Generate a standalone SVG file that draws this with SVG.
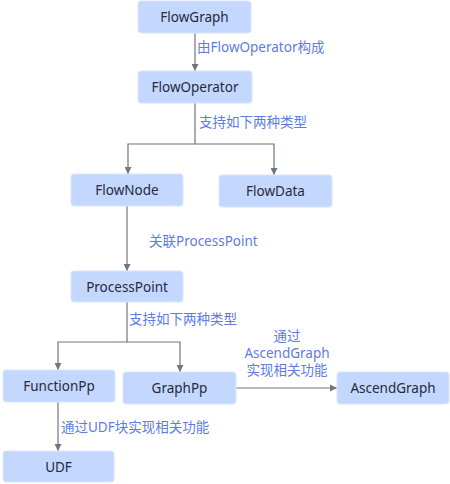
<svg xmlns="http://www.w3.org/2000/svg" width="450" height="484" viewBox="0 0 450 484">
<style>
.n rect{fill:#c4d7ff;stroke:#d9e4ff;stroke-width:1}
.n text{font-family:"Noto Sans","Noto Sans CJK SC",sans-serif;font-size:13.5px;fill:#252b3a;text-anchor:middle}
.c path{fill:none;stroke:#71757f;stroke-width:1.2}
.l{font-family:"Noto Sans","Noto Sans CJK SC",sans-serif;font-size:13.5px;fill:#5e7ce0}
</style>
<defs>
<marker id="a" viewBox="0 0 10 10" refX="10" refY="5" markerWidth="7" markerHeight="7" orient="auto-start-reverse" markerUnits="userSpaceOnUse">
<path d="M0,0 L10,5 L0,10 z" fill="#71757f"/>
</marker>
</defs>
<rect width="450" height="484" fill="#ffffff"/>
<g class="c">
<path d="M195,33 V71" marker-end="url(#a)"/>
<path d="M195,103 V144 H128 V174" marker-end="url(#a)"/>
<path d="M195,144 H274 V175" marker-end="url(#a)"/>
<path d="M127,206 V271" marker-end="url(#a)"/>
<path d="M127,302 V342 H58 V370" marker-end="url(#a)"/>
<path d="M127,342 H180 V372" marker-end="url(#a)"/>
<path d="M236,388 H337" marker-end="url(#a)"/>
<path d="M58,402 V451" marker-end="url(#a)"/>
</g>
<g id="labels">
<text class="l" x="197" y="52">由FlowOperator构成</text>
<text class="l" x="199" y="127">支持如下两种类型</text>
<text class="l" x="149" y="246">关联ProcessPoint</text>
<text class="l" x="129" y="324">支持如下两种类型</text>
<text class="l" x="287" y="341" text-anchor="middle">通过</text>
<text class="l" x="287" y="358" text-anchor="middle">AscendGraph</text>
<text class="l" x="287" y="375" text-anchor="middle">实现相关功能</text>
<text class="l" x="61" y="432">通过UDF块实现相关功能</text>
</g>
<g id="FlowGraph" class="n"><rect x="138" y="1" width="113" height="32" rx="3"/><text x="194.5" y="22">FlowGraph</text></g>
<g id="FlowOperator" class="n"><rect x="138" y="71" width="114" height="32" rx="3"/><text x="195" y="92">FlowOperator</text></g>
<g id="FlowNode" class="n"><rect x="71" y="174" width="112" height="32" rx="3"/><text x="127" y="195">FlowNode</text></g>
<g id="FlowData" class="n"><rect x="219" y="175" width="113" height="32" rx="3"/><text x="275.5" y="196">FlowData</text></g>
<g id="ProcessPoint" class="n"><rect x="71" y="271" width="112" height="31" rx="3"/><text x="127" y="291.5">ProcessPoint</text></g>
<g id="FunctionPp" class="n"><rect x="3" y="370" width="112" height="32" rx="3"/><text x="59" y="391">FunctionPp</text></g>
<g id="GraphPp" class="n"><rect x="123" y="372" width="113" height="32" rx="3"/><text x="179.5" y="393">GraphPp</text></g>
<g id="AscendGraph" class="n"><rect x="337" y="372" width="112" height="32" rx="3"/><text x="393" y="393">AscendGraph</text></g>
<g id="UDF" class="n"><rect x="3" y="451" width="111" height="31" rx="3"/><text x="58.5" y="471.5">UDF</text></g>
</svg>
